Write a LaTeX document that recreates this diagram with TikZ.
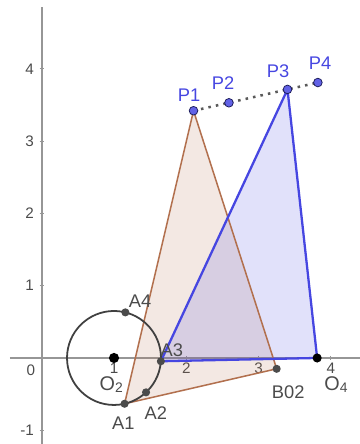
\documentclass[tikz,border=0pt]{standalone}
\usepackage{fontspec}
\setmainfont{Liberation Sans}
\usetikzlibrary{calc}
\definecolor{ggblue}{RGB}{70,70,225}
\definecolor{ggbrown}{RGB}{178,112,78}
\definecolor{ggaxis}{RGB}{150,150,150}
\definecolor{gglabel}{RGB}{75,75,75}
\tikzset{
  axis/.style={draw=ggaxis, line width=0.8pt},
  ptlabel/.style={font=\fontsize{7.2}{8}\selectfont, text=gglabel, inner sep=0.5pt},
  olabel/.style={font=\fontsize{7.8}{8}\selectfont, text=gglabel, inner sep=0.5pt},
  ticklabel/.style={font=\fontsize{6}{6}\selectfont, text=gglabel, inner sep=0.5pt},
}
\begin{document}
\begin{tikzpicture}[line width=0.6pt]
  \useasboundingbox (-0.577,-1.190) rectangle (4.402,4.952);
  \coordinate (xmin) at (-0.44,0);
  \coordinate (xmax) at (4.40,0);
  \coordinate (ymin) at (0,-1.19);
  \coordinate (ymax) at (0,4.86);
  \draw[axis] (xmin) -- (xmax);
  \draw[axis] (ymin) -- (ymax);
  \foreach \i in {1,...,4} {
    \draw[axis, line width=0.4pt] (\i,0.03) -- (\i,-0.03);
    \node[ticklabel] (xt\i) at (\i,-0.14) {\i};
  }
  \foreach \j in {-1,1,2,3,4} {
    \draw[axis, line width=0.4pt] (-0.03,\j) -- (0.03,\j);
    \node[ticklabel, anchor=east] (yt\j) at (-0.08,\j) {\j};
  }
  \node[ticklabel] (zero) at (-0.15,-0.17) {0};
  \coordinate (O2) at (1.000,0.000);
  \coordinate (A1) at ($(O2)+(-77:0.65)$);
  \coordinate (A2) at ($(O2)+(-47:0.65)$);
  \coordinate (A3) at ($(O2)+(-4:0.65)$);
  \coordinate (A4) at ($(O2)+(76:0.65)$);
  \coordinate (B02) at (3.250,-0.150);
  \coordinate (O4) at (3.810,0.000);
  \coordinate (P1) at (2.100,3.420);
  \coordinate (P2) at (2.590,3.530);
  \coordinate (P3) at (3.400,3.715);
  \coordinate (P4) at (3.820,3.810);
  \fill[ggbrown, opacity=0.16] (A1) -- (P1) -- (B02) -- cycle;
  \fill[ggblue, opacity=0.16] (A3) -- (P3) -- (O4) -- cycle;
  \draw[ggbrown] (A1) -- (P1) -- (B02) -- cycle;
  \draw[ggblue, line width=0.9pt, line join=round] (A3) -- (P3) -- (O4) -- cycle;
  \draw[black!75, line width=0.7pt] (O2) circle (0.65);
  \draw[black!65, line width=1pt, dotted] (P1) -- (P4);
  \foreach \p in {A1,A2,A3,A4,B02}
    \fill[gglabel] (\p) circle (1.6pt);
  \fill[black] (O2) circle (2pt);
  \fill[black] (O4) circle (1.8pt);
  \foreach \p in {P1,P2,P3,P4}
    \filldraw[fill=ggblue!85, draw=black!60!ggblue, line width=0.3pt] (\p) circle (1.7pt);
  \node[ptlabel, text=ggblue] (lP1) at (2.04,3.64) {P1};
  \node[ptlabel, text=ggblue] (lP2) at (2.51,3.80) {P2};
  \node[ptlabel, text=ggblue] (lP3) at (3.27,3.97) {P3};
  \node[ptlabel, text=ggblue] (lP4) at (3.85,4.08) {P4};
  \node[ptlabel] (lA4) at (1.36,0.79) {A4};
  \node[ptlabel] (lA3) at (1.80,0.11) {A3};
  \node[ptlabel] (lA2) at (1.58,-0.76) {A2};
  \node[ptlabel] (lA1) at (1.13,-0.90) {A1};
  \node[ptlabel] (lB02) at (3.41,-0.47) {B02};
  \node[olabel] (lO2) at (0.97,-0.37) {O\textsubscript{2}};
  \node[olabel] (lO4) at (4.08,-0.37) {O\textsubscript{4}};
\end{tikzpicture}
\end{document}
